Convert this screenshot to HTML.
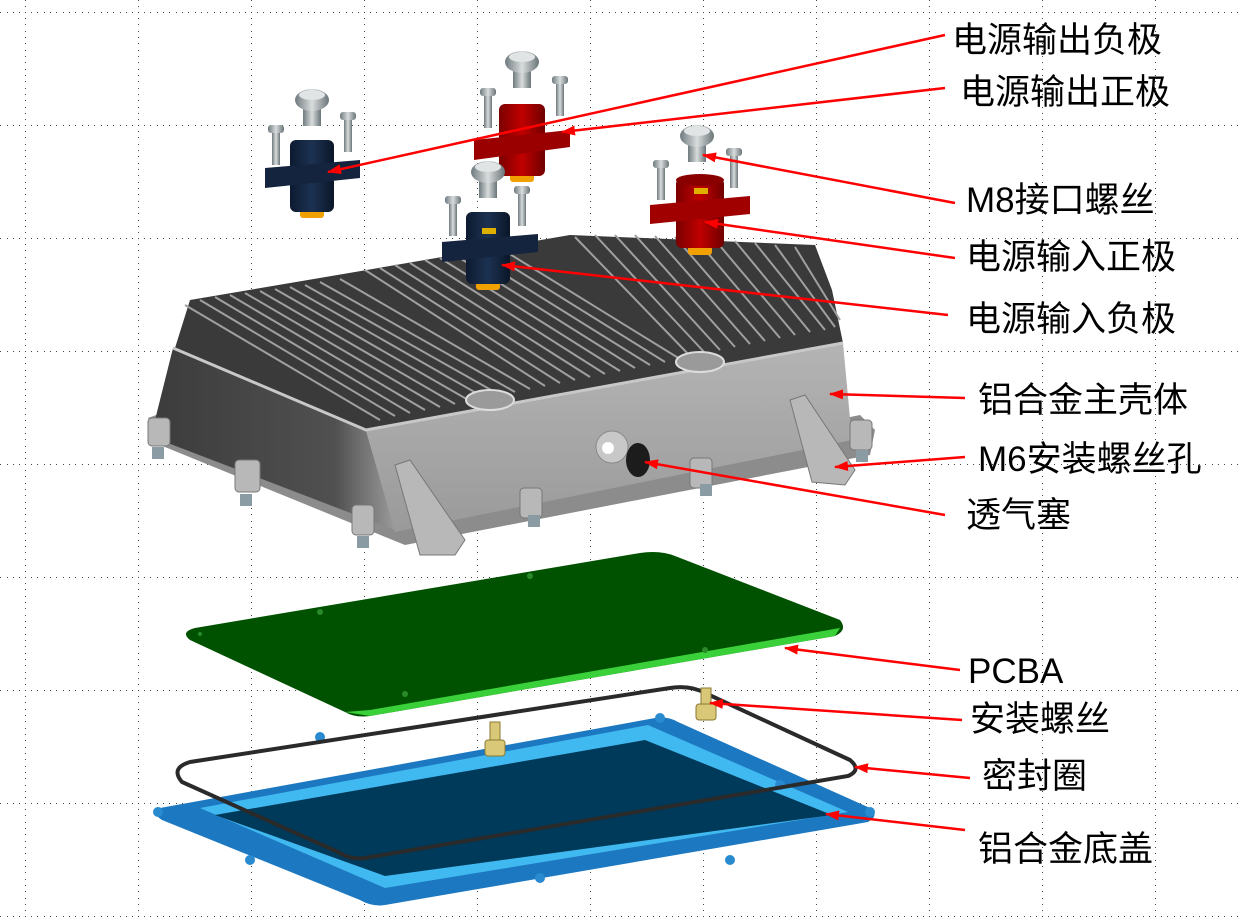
<!DOCTYPE html>
<html><head><meta charset="utf-8"><style>
html,body{margin:0;padding:0;background:#fff}
svg{display:block}
text{font-family:"Liberation Sans","Noto Sans CJK SC",sans-serif;font-size:35px;fill:#000}
</style></head><body>
<svg width="1241" height="920" viewBox="0 0 1241 920" xmlns="http://www.w3.org/2000/svg">
<defs>
<pattern id="grid" x="25" y="12" width="113" height="113" patternUnits="userSpaceOnUse">
<g fill="#444">
<rect x="0" y="0" width="1" height="1"/><rect x="0" y="6" width="1" height="1"/><rect x="0" y="12" width="1" height="1"/><rect x="0" y="19" width="1" height="1"/><rect x="0" y="25" width="1" height="1"/><rect x="0" y="31" width="1" height="1"/><rect x="0" y="38" width="1" height="1"/><rect x="0" y="44" width="1" height="1"/><rect x="0" y="50" width="1" height="1"/><rect x="0" y="57" width="1" height="1"/><rect x="0" y="63" width="1" height="1"/><rect x="0" y="69" width="1" height="1"/><rect x="0" y="76" width="1" height="1"/><rect x="0" y="82" width="1" height="1"/><rect x="0" y="88" width="1" height="1"/><rect x="0" y="95" width="1" height="1"/><rect x="0" y="101" width="1" height="1"/><rect x="0" y="107" width="1" height="1"/>
<rect x="6" y="0" width="1" height="1"/><rect x="12" y="0" width="1" height="1"/><rect x="19" y="0" width="1" height="1"/><rect x="25" y="0" width="1" height="1"/><rect x="31" y="0" width="1" height="1"/><rect x="38" y="0" width="1" height="1"/><rect x="44" y="0" width="1" height="1"/><rect x="50" y="0" width="1" height="1"/><rect x="57" y="0" width="1" height="1"/><rect x="63" y="0" width="1" height="1"/><rect x="69" y="0" width="1" height="1"/><rect x="76" y="0" width="1" height="1"/><rect x="82" y="0" width="1" height="1"/><rect x="88" y="0" width="1" height="1"/><rect x="95" y="0" width="1" height="1"/><rect x="101" y="0" width="1" height="1"/><rect x="107" y="0" width="1" height="1"/>
</g></pattern>
<marker id="ar" markerWidth="14" markerHeight="10" refX="13" refY="5" orient="auto" markerUnits="userSpaceOnUse">
<path d="M0,0 L14,5 L0,10 z" fill="#f00"/></marker>
<linearGradient id="lf" x1="0" y1="0" x2="1" y2="0"><stop offset="0" stop-color="#3c3c3c"/><stop offset="0.75" stop-color="#505050"/><stop offset="1" stop-color="#9a9a9a"/></linearGradient>
<linearGradient id="ff" x1="0" y1="0" x2="0" y2="1"><stop offset="0" stop-color="#b4b4b4"/><stop offset="1" stop-color="#9a9a9a"/></linearGradient>
<linearGradient id="red" x1="0" y1="0" x2="1" y2="0"><stop offset="0" stop-color="#7a0000"/><stop offset="0.5" stop-color="#c00000"/><stop offset="1" stop-color="#700000"/></linearGradient>
<linearGradient id="blu" x1="0" y1="0" x2="1" y2="0"><stop offset="0" stop-color="#0c1a30"/><stop offset="0.5" stop-color="#1c3252"/><stop offset="1" stop-color="#0a1628"/></linearGradient>
<linearGradient id="scr" x1="0" y1="0" x2="1" y2="0"><stop offset="0" stop-color="#6f7a7e"/><stop offset="0.5" stop-color="#d8dcdc"/><stop offset="1" stop-color="#6a7478"/></linearGradient>
<g id="sscr"><rect x="-4" y="6" width="8" height="34" fill="url(#scr)"/><rect x="-8" y="0" width="16" height="8" rx="3" fill="url(#scr)"/></g>
<g id="bscr"><rect x="-9" y="14" width="18" height="22" fill="url(#scr)"/><ellipse cx="0" cy="10" rx="17" ry="11" fill="url(#scr)"/><ellipse cx="0" cy="5" rx="13" ry="5" fill="#e0e4e4"/></g>
</defs>
<rect width="1241" height="920" fill="url(#grid)"/>

<!-- housing -->
<g>
<polygon points="148,418 170,410 400,510 860,415 875,430 870,455 405,545 160,445" fill="#8c8c8c"/>
<polygon points="173,348 366,430 395,530 160,440 155,420" fill="url(#lf)"/>
<polygon points="366,430 843,343 852,440 395,532" fill="url(#ff)"/>
<polygon points="175,348 190,300 355,272 570,235 815,245 832,290 843,343 366,430" fill="#3a3a3a"/>
<g stroke="#a0a0a0" stroke-width="2" fill="none">
<path d="M185,305 L380,420 M200,300 L395,416 M215,297 L410,413 M230,295 L425,410 M245,293 L440,407 M260,291 L455,404 M275,289 L470,401 M290,287 L485,398 M305,285 L500,395 M320,282 L515,392 M340,279 L530,389"/>
<path d="M365,270 L545,386 M380,268 L560,383 M395,265 L575,380 M410,263 L590,377 M425,260 L605,374 M440,258 L620,371 M455,255 L635,368 M470,253 L650,365 M485,250 L665,362 M500,248 L680,359"/>
<path d="M575,237 L690,356 M595,235 L705,353 M615,235 L720,350 M635,235 L735,347 M655,236 L750,344 M675,237 L765,341 M695,238 L780,338 M715,240 L795,335 M735,241 L810,332 M755,243 L825,330 M775,245 L835,327 M795,247 L840,320"/>
</g>
<path d="M173,348 L366,430 L843,343" stroke="#c8c8c8" stroke-width="3" fill="none"/>
<ellipse cx="490" cy="400" rx="24" ry="10" fill="#9a9a9a" stroke="#ddd" stroke-width="2"/>
<ellipse cx="700" cy="362" rx="24" ry="10" fill="#9a9a9a" stroke="#ddd" stroke-width="2"/>
<g fill="#b8b8b8" stroke="#777" stroke-width="1">
<polygon points="395,465 410,460 465,540 455,555 420,555"/>
<polygon points="790,400 805,395 855,470 845,485 812,482"/>
<rect x="148" y="418" width="22" height="28" rx="4"/>
<rect x="235" y="460" width="25" height="32" rx="4"/>
<rect x="352" y="505" width="22" height="30" rx="4"/>
<rect x="520" y="488" width="22" height="30" rx="4"/>
<rect x="690" y="458" width="22" height="30" rx="4"/>
<rect x="850" y="420" width="22" height="30" rx="4"/>
</g>
<g fill="#8a9ba3"><rect x="152" y="447" width="12" height="12"/><rect x="240" y="494" width="12" height="12"/><rect x="357" y="536" width="12" height="12"/><rect x="528" y="515" width="12" height="12"/><rect x="700" y="484" width="12" height="12"/><rect x="856" y="450" width="12" height="12"/></g>
<circle cx="612" cy="447" r="16" fill="#c8c8c8" stroke="#888"/>
<circle cx="608" cy="448" r="6" fill="#fff"/>
<ellipse cx="638" cy="460" rx="12" ry="17" fill="#1c1c1c"/>
</g>

<!-- PCBA -->
<path d="M195,628 L640,553 Q660,550 675,556 L840,620 Q848,630 835,636 L370,716 Q355,718 345,712 L190,640 Q180,632 195,628 Z" fill="#005200"/>
<path d="M345,712 L370,716 L835,636 L840,628 L370,710 Z" fill="#3ad03a"/>
<g fill="#2a8a2a"><circle cx="320" cy="612" r="3"/><circle cx="530" cy="576" r="3"/><circle cx="405" cy="694" r="3"/><circle cx="705" cy="650" r="3"/><circle cx="200" cy="634" r="2"/></g>

<!-- bottom cover -->
<path d="M160,808 L655,718 Q668,716 678,722 L870,808 Q880,815 868,822 L385,905 Q372,907 360,900 L162,820 Q150,812 160,808 Z" fill="#1c78c0"/>
<path d="M200,808 L648,725 L848,812 L385,888 Z" fill="#40b8f0"/>
<path d="M215,815 L645,740 L832,815 L385,876 Z" fill="#003a5a"/>
<g fill="#2a8ad0"><circle cx="158" cy="812" r="5"/><circle cx="250" cy="860" r="5"/><circle cx="320" cy="737" r="5"/><circle cx="540" cy="878" r="5"/><circle cx="780" cy="785" r="5"/><circle cx="870" cy="812" r="5"/><circle cx="660" cy="718" r="5"/><circle cx="730" cy="860" r="5"/></g>
<path d="M190,762 L670,688 Q690,685 705,693 L850,760 Q862,770 848,776 L365,858 Q350,860 338,852 L182,782 Q170,768 190,762 Z" fill="none" stroke="#2a2a2a" stroke-width="4"/>
<g fill="#d8c878" stroke="#8a7a30" stroke-width="1"><rect x="490" y="722" width="10" height="20"/><rect x="485" y="740" width="20" height="16" rx="3"/><rect x="701" y="688" width="10" height="20"/><rect x="696" y="704" width="20" height="16" rx="3"/></g>

<!-- connectors -->
<g transform="translate(312,0)">
<use href="#bscr" x="0" y="90"/><use href="#sscr" x="-36" y="125"/><use href="#sscr" x="36" y="112"/>
<rect x="-12" y="208" width="24" height="10" rx="3" fill="#f0a000"/>
<rect x="-22" y="140" width="44" height="72" rx="6" fill="url(#blu)"/>
<polygon points="-47,168 48,160 48,178 -47,188" fill="#14243e"/>
</g>
<g transform="translate(522,0)">
<use href="#bscr" x="0" y="52"/><use href="#sscr" x="-34" y="88"/><use href="#sscr" x="38" y="76"/>
<rect x="-12" y="172" width="24" height="10" rx="3" fill="#f0a000"/>
<rect x="-23" y="104" width="46" height="72" rx="6" fill="url(#red)"/>
<polygon points="-48,140 48,130 48,147 -48,160" fill="#9a0000"/>
</g>
<g transform="translate(488,0)">
<use href="#bscr" x="0" y="162"/><use href="#sscr" x="-35" y="196"/><use href="#sscr" x="34" y="186"/>
<rect x="-12" y="280" width="24" height="10" rx="3" fill="#f0a000"/>
<rect x="-22" y="212" width="44" height="72" rx="6" fill="url(#blu)"/>
<polygon points="-46,242 50,234 50,252 -46,262" fill="#14243e"/>
<path d="M-6,228 h14 v6 h-14z" fill="#e0b000"/>
</g>
<g transform="translate(700,0)">
<use href="#bscr" x="-3" y="126"/><use href="#sscr" x="-39" y="160"/><use href="#sscr" x="34" y="148"/>
<rect x="-12" y="245" width="24" height="10" rx="3" fill="#f0a000"/>
<rect x="-24" y="178" width="48" height="70" rx="6" fill="url(#red)"/>
<ellipse cx="0" cy="180" rx="24" ry="6" fill="#8a0000"/>
<polygon points="-50,205 50,196 50,214 -50,224" fill="#a00000"/>
<path d="M-6,188 h14 v6 h-14z" fill="#e0b000"/>
</g>

<!-- leader lines -->
<g stroke="#f00" stroke-width="2.5" fill="none" marker-end="url(#ar)">
<line x1="945" y1="35" x2="328" y2="172"/>
<line x1="945" y1="88" x2="562" y2="132"/>
<line x1="955" y1="203" x2="703" y2="155"/>
<line x1="955" y1="258" x2="705" y2="222"/>
<line x1="948" y1="315" x2="502" y2="265"/>
<line x1="965" y1="398" x2="830" y2="394"/>
<line x1="965" y1="457" x2="835" y2="467"/>
<line x1="945" y1="515" x2="645" y2="462"/>
<line x1="960" y1="670" x2="785" y2="648"/>
<line x1="962" y1="720" x2="710" y2="703"/>
<line x1="970" y1="778" x2="855" y2="767"/>
<line x1="965" y1="830" x2="826" y2="814"/>
</g>

<text x="952" y="52">电源输出负极</text>
<text x="960" y="104">电源输出正极</text>
<text x="966" y="212">M8接口螺丝</text>
<text x="966" y="269">电源输入正极</text>
<text x="966" y="331">电源输入负极</text>
<text x="978" y="412">铝合金主壳体</text>
<text x="978" y="471">M6安装螺丝孔</text>
<text x="966" y="527">透气塞</text>
<text x="968" y="683">PCBA</text>
<text x="970" y="731">安装螺丝</text>
<text x="982" y="788">密封圈</text>
<text x="978" y="861">铝合金底盖</text>
</svg>
</body></html>
